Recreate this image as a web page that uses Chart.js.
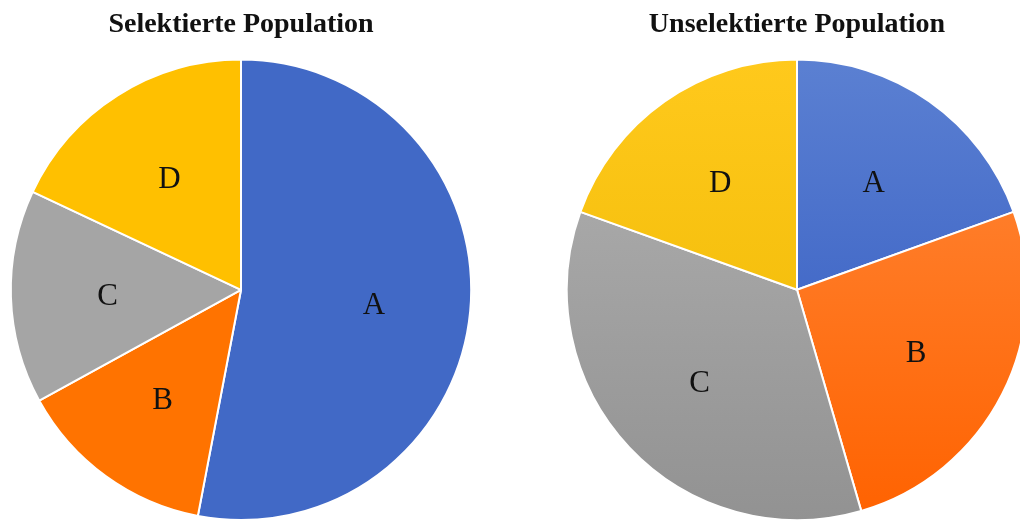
<!DOCTYPE html>
<html>
<head>
<meta charset="utf-8">
<script src="https://cdn.jsdelivr.net/npm/chart.js@4.4.1/dist/chart.umd.min.js"></script>
<style>
    html, body { margin: 0; padding: 0; background: #fff; }
    #wrap { position: relative; width: 1020px; height: 521px; overflow: hidden; }
    .box { position: absolute; top: 0; width: 482px; height: 521px; }
</style>
</head>
<body>
<div id="wrap">
    <div class="box" style="left:0px"><canvas id="leftChart"></canvas></div>
    <div class="box" style="left:556px"><canvas id="rightChart"></canvas></div>
</div>
<script>
const categories = ['A', 'B', 'C', 'D'];
const selectedValues = [53, 14, 15, 18];
const unselectedValues = [19.5, 26, 35, 19.5];
const titles = ['Selektierte Population', 'Unselektierte Population'];

const flatColors = ['#4169c6', '#ff7300', '#a5a5a5', '#ffc000'];
const gradTop = ['#5b80d2', '#ff8a3d', '#b2b2b2', '#ffc91c'];
const gradBottom = ['#2e56bf', '#ff6200', '#929292', '#ecb700'];

// draws the category letter inside each slice
const sliceLabels = {
    id: 'sliceLabels',
    afterDatasetsDraw(chart) {
        const ctx = chart.ctx;
        const meta = chart.getDatasetMeta(0);
        ctx.save();
        ctx.font = '31px "Liberation Serif", "Times New Roman", serif';
        ctx.fillStyle = '#111';
        ctx.textAlign = 'center';
        ctx.textBaseline = 'middle';
        meta.data.forEach((arc, i) => {
            const p = arc.getProps(['x', 'y', 'startAngle', 'endAngle', 'outerRadius'], true);
            const mid = (p.startAngle + p.endAngle) / 2;
            const r = p.outerRadius * 0.58;
            ctx.fillText(chart.data.labels[i], p.x + Math.cos(mid) * r, p.y + Math.sin(mid) * r + 3);
        });
        ctx.restore();
    }
};

function gradientFill(context) {
    const chart = context.chart;
    const area = chart.chartArea;
    if (!area) return flatColors[context.dataIndex];
    const g = chart.ctx.createLinearGradient(0, area.top, 0, area.bottom);
    g.addColorStop(0, gradTop[context.dataIndex]);
    g.addColorStop(1, gradBottom[context.dataIndex]);
    return g;
}

function makePie(id, title, values, fill) {
    new Chart(document.getElementById(id), {
        type: 'pie',
        data: {
            labels: categories,
            datasets: [{
                data: values,
                backgroundColor: fill,
                borderColor: '#ffffff',
                borderWidth: 2,
                hoverOffset: 0
            }]
        },
        options: {
            responsive: true,
            maintainAspectRatio: false,
            animation: false,
            events: [],
            layout: { padding: 0 },
            plugins: {
                legend: { display: false },
                tooltip: { enabled: false },
                title: {
                    display: true,
                    text: title,
                    color: '#111',
                    font: { family: '"Liberation Serif", "Times New Roman", serif', size: 28, weight: 'bold' },
                    padding: { top: 8, bottom: 17 }
                }
            }
        },
        plugins: [sliceLabels]
    });
}

makePie('leftChart', titles[0], selectedValues, flatColors);
makePie('rightChart', titles[1], unselectedValues, gradientFill);
</script>
</body>
</html>
